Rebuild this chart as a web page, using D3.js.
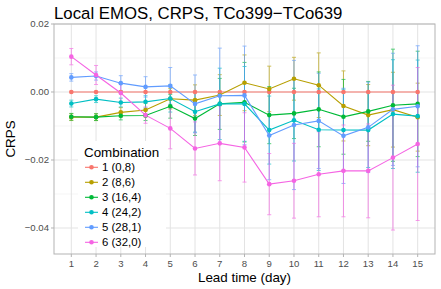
<!DOCTYPE html>
<html><head><meta charset="utf-8">
<script src="https://cdn.jsdelivr.net/npm/d3@7"></script>
<style>body{margin:0;background:#fff}svg{display:block;font-family:"Liberation Sans",Arial,sans-serif}</style>
</head><body>
<svg id="c" width="441" height="289"></svg>
<script>
const days = [1,2,3,4,5,6,7,8,9,10,11,12,13,14,15];
const combos = ["1 (0,8)","2 (8,6)","3 (16,4)","4 (24,2)","5 (28,1)","6 (32,0)"];
const colors = ["#F8766D","#B79F00","#00BA38","#00BFC4","#619CFF","#F564E3"];
const yTicks = [0.02, 0.00, -0.02, -0.04];
const yTickLabels = ["0.02","0.00","\u22120.02","\u22120.04"];
const yMinor = [0.01, -0.01, -0.03];

const s1 = [0,0,0,0,0,0,0,0,0,0,0,0,0,0,0];
const e1 = [0,0,0,0,0,0,0,0,0,0,0,0,0,0,0];
const s2 = [-0.0074,-0.0074,-0.0060,-0.0053,-0.0020,-0.0024,-0.0009,0.0027,0.0009,0.0039,0.0020,-0.0041,-0.0068,-0.0052,-0.0074];
const e2 = [0.0010,0.0010,0.0014,0.0020,0.0030,0.0045,0.0060,0.0082,0.0067,0.0063,0.0095,0.0103,0.0090,0.0110,0.0100];
const s3 = [-0.0073,-0.0074,-0.0070,-0.0069,-0.0042,-0.0078,-0.0035,-0.0030,-0.0068,-0.0063,-0.0051,-0.0073,-0.0057,-0.0039,-0.0035];
const e3 = [0.0010,0.0010,0.0012,0.0015,0.0035,0.0050,0.0075,0.0117,0.0084,0.0074,0.0110,0.0110,0.0088,0.0165,0.0155];
const s4 = [-0.0034,-0.0021,-0.0031,-0.0029,-0.0019,-0.0058,-0.0035,-0.0035,-0.0112,-0.0083,-0.0111,-0.0112,-0.0112,-0.0065,-0.0071];
const e4 = [0.0010,0.0010,0.0013,0.0018,0.0040,0.0060,0.0105,0.0110,0.0100,0.0120,0.0120,0.0120,0.0110,0.0160,0.0165];
const s5 = [0.0043,0.0047,0.0026,0.0015,0.0018,-0.0035,-0.0011,-0.0010,-0.0128,-0.0097,-0.0085,-0.0129,-0.0104,-0.0051,-0.0042];
const e5 = [0.0011,0.0012,0.0022,0.0030,0.0054,0.0085,0.0140,0.0145,0.0130,0.0190,0.0140,0.0140,0.0133,0.0165,0.0178];
const s6 = [0.0104,0.0050,-0.0003,-0.0068,-0.0107,-0.0166,-0.0151,-0.0163,-0.0271,-0.0261,-0.0242,-0.0232,-0.0232,-0.0193,-0.0153];
const e6 = [0.0024,0.0028,0.0027,0.0024,0.0060,0.0078,0.0110,0.0102,0.0090,0.0110,0.0125,0.0135,0.0138,0.0213,0.0225];

const values = [s1,s2,s3,s4,s5,s6];
const errs = [e1,e2,e3,e4,e5,e6];
const series = combos.map((c,i)=>({name:c,color:colors[i],pts:days.map((d,j)=>({d,v:values[i][j],e:errs[i][j]}))}));

const svg = d3.select("#c");
const L=54, R=435, T=24, B=254;
const x = d3.scaleLinear().domain([0.3,15.7]).range([L,R]);
const y = d3.scaleLinear().domain([-0.04765,0.02]).range([B,T]);

// grid
const g = svg.append("g");
g.selectAll(".ymin").data(yMinor).join("line").attr("x1",L).attr("x2",R).attr("y1",d=>y(d)).attr("y2",d=>y(d)).attr("stroke","#F0F0F0").attr("stroke-width",0.6);
g.selectAll(".ymaj").data(yTicks).join("line").attr("x1",L).attr("x2",R).attr("y1",d=>y(d)).attr("y2",d=>y(d)).attr("stroke","#E3E3E3").attr("stroke-width",1);
g.selectAll(".xmaj").data(days).join("line").attr("y1",T).attr("y2",B).attr("x1",d=>x(d)).attr("x2",d=>x(d)).attr("stroke","#E3E3E3").attr("stroke-width",1);

// error bars
const eb = svg.append("g");
series.forEach(s=>{
  if (s.pts.every(p=>p.e===0)) return;
  const gg = eb.append("g").attr("stroke",s.color).attr("stroke-width",1).attr("opacity",0.65);
  gg.selectAll("line.v").data(s.pts).join("line").attr("x1",p=>x(p.d)).attr("x2",p=>x(p.d)).attr("y1",p=>y(p.v-p.e)).attr("y2",p=>y(p.v+p.e));
  gg.selectAll("line.t").data(s.pts).join("line").attr("x1",p=>x(p.d)-2).attr("x2",p=>x(p.d)+2).attr("y1",p=>y(p.v+p.e)).attr("y2",p=>y(p.v+p.e));
  gg.selectAll("line.b").data(s.pts).join("line").attr("x1",p=>x(p.d)-2).attr("x2",p=>x(p.d)+2).attr("y1",p=>y(p.v-p.e)).attr("y2",p=>y(p.v-p.e));
});

// lines
const line = d3.line().x(p=>x(p.d)).y(p=>y(p.v));
series.forEach(s=>{
  svg.append("path").attr("d",line(s.pts)).attr("fill","none").attr("stroke",s.color).attr("stroke-width",1.1);
});
series.forEach(s=>{
  svg.append("g").selectAll("circle").data(s.pts).join("circle").attr("cx",p=>x(p.d)).attr("cy",p=>y(p.v)).attr("r",2.3).attr("fill",s.color);
});

// panel border
svg.append("rect").attr("x",L).attr("y",T).attr("width",R-L).attr("height",B-T).attr("fill","none").attr("stroke","#B3B3B3").attr("stroke-width",1);

// axes ticks
const ax = svg.append("g");
ax.selectAll(".yt").data(yTicks).join("line").attr("x1",L-3).attr("x2",L).attr("y1",d=>y(d)).attr("y2",d=>y(d)).attr("stroke","#B3B3B3");
ax.selectAll(".yl").data(yTicks).join("text").attr("x",L-5).attr("y",d=>y(d)).attr("dy","0.35em").attr("text-anchor","end").attr("font-size",9.6).attr("fill","#4D4D4D").text((d,i)=>yTickLabels[i]);
ax.selectAll(".xt").data(days).join("line").attr("y1",B).attr("y2",B+3).attr("x1",d=>x(d)).attr("x2",d=>x(d)).attr("stroke","#B3B3B3");
ax.selectAll(".xl").data(days).join("text").attr("x",d=>x(d)).attr("y",B+13).attr("text-anchor","middle").attr("font-size",9.6).attr("fill","#4D4D4D").text(d=>d);

// titles
svg.append("text").attr("x",L).attr("y",18.5).attr("font-size",16.8).attr("fill","#000").text("Local EMOS, CRPS, TCo399\u2212TCo639");
svg.append("text").attr("x",(L+R)/2).attr("y",282).attr("text-anchor","middle").attr("font-size",13.4).text("Lead time (day)");
svg.append("text").attr("transform",`translate(15,${(T+B)/2}) rotate(-90)`).attr("text-anchor","middle").attr("font-size",13.4).text("CRPS");

// legend
const lg = svg.append("g");
lg.append("rect").attr("x",78).attr("y",141).attr("width",88).attr("height",106).attr("fill","#fff");
lg.append("text").attr("x",84).attr("y",156.5).attr("font-size",13.4).text("Combination");
series.forEach((s,i)=>{
  const yy = 167.3 + i*15;
  lg.append("line").attr("x1",85).attr("x2",98).attr("y1",yy).attr("y2",yy).attr("stroke",s.color).attr("stroke-width",1.1);
  lg.append("circle").attr("cx",91.5).attr("cy",yy).attr("r",2.3).attr("fill",s.color);
  lg.append("text").attr("x",102).attr("y",yy).attr("dy","0.36em").attr("font-size",11.4).text(s.name);
});
</script>
</body></html>
